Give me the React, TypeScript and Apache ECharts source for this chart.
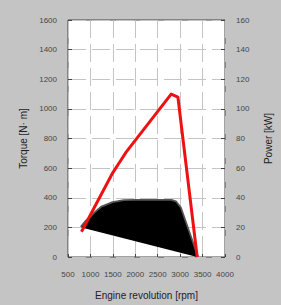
import React, { useEffect, useRef } from "react";
import * as echarts from "echarts";

// Engine speed [rpm] / full-load torque [N·m]
const torqueRpm = [800, 900, 1000, 1100, 1250, 1500, 1750, 2000, 2500, 2800, 2900, 3000, 3380];
const torqueVal = [200, 238, 265, 295, 335, 365, 378, 380, 380, 380, 370, 330, 0];

// Engine speed [rpm] / power [kW]
const powerRpm = [800, 1500, 1650, 1800, 2800, 2950, 3380];
const powerVal = [17, 57, 64, 71, 110, 108, 0];

const xTicks = { min: 500, max: 4000, interval: 500 };
const torqueTicks = { min: 0, max: 1600, interval: 200 };
const powerTicks = { min: 0, max: 160, interval: 20 };

const FONT = "Liberation Sans, Arial, sans-serif";

export default function App() {
  const ref = useRef<HTMLDivElement>(null);
  useEffect(() => {
    if (!ref.current) return;
    const chart = echarts.init(ref.current, undefined, { renderer: "svg" });
    const torquePts = torqueRpm.map((r, i) => [r, torqueVal[i]]);
    const powerPts = powerRpm.map((r, i) => [r, powerVal[i]]);
    const plain = (v: number) => String(v);
    const tickStyle = { color: "#444", fontSize: 8, fontFamily: FONT, formatter: plain, hideOverlap: false };
    const nameStyle = { color: "#222", fontSize: 10, fontFamily: FONT };
    const gridLine = { show: true, lineStyle: { color: "#c4c4c4", type: [18, 6], width: 1 } };
    chart.setOption({
      animation: false,
      backgroundColor: "#c4c4c4",
      grid: {
        left: 68,
        right: 42,
        top: 20,
        bottom: 35,
        show: true,
        backgroundColor: "#ffffff",
        borderColor: "#444",
        borderWidth: 1,
      },
      xAxis: {
        type: "value",
        ...xTicks,
        name: "Engine revolution [rpm]",
        nameLocation: "middle",
        nameGap: 33,
        nameTextStyle: nameStyle,
        axisLine: { show: false },
        axisTick: { show: true, inside: true, length: 3, lineStyle: { color: "#444" } },
        axisLabel: { ...tickStyle, margin: 13 },
        splitLine: gridLine,
      },
      yAxis: [
        {
          type: "value",
          ...torqueTicks,
          position: "left",
          name: "Torque [N· m]",
          nameLocation: "middle",
          nameRotate: 90,
          nameGap: 36,
          nameTextStyle: nameStyle,
          axisLine: { show: false },
          axisTick: { show: true, inside: true, length: 4, lineStyle: { color: "#444" } },
          axisLabel: { ...tickStyle, margin: 11 },
          splitLine: gridLine,
        },
        {
          type: "value",
          ...powerTicks,
          position: "right",
          name: "Power [kW]",
          nameLocation: "middle",
          nameRotate: 90,
          nameGap: 38,
          nameTextStyle: nameStyle,
          axisLine: { show: false },
          axisTick: { show: true, inside: true, length: 4, lineStyle: { color: "#444" } },
          axisLabel: { ...tickStyle, margin: 11 },
          splitLine: { show: false },
        },
      ],
      series: [
        {
          type: "line",
          yAxisIndex: 0,
          data: torquePts,
          showSymbol: false,
          symbol: "none",
          lineStyle: { color: "#555", width: 3.5, join: "round" },
          z: 1,
        },
        {
          type: "custom",
          yAxisIndex: 0,
          data: [torquePts[0]],
          encode: { x: 0, y: 1 },
          z: 2,
          renderItem: (params: any, api: any) => {
            const points = torquePts.map((p) => api.coord(p));
            return {
              type: "polygon",
              shape: { points },
              style: { fill: "#000000", stroke: "none" },
            };
          },
        },
        {
          type: "line",
          yAxisIndex: 1,
          data: powerPts,
          showSymbol: false,
          symbol: "none",
          lineStyle: { color: "#ee1111", width: 3, join: "round" },
          z: 3,
        },
      ],
    });
    return () => chart.dispose();
  }, []);
  return (
    <div
      ref={ref}
      style={{ position: "fixed", left: 0, top: 0, width: 281, height: 305 }}
    />
  );
}
